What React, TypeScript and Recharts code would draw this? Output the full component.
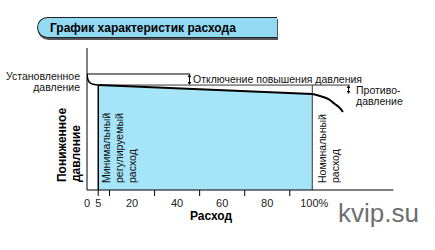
import React from 'react';
import { ComposedChart, Line, Area, XAxis, YAxis, ReferenceLine } from 'recharts';

// ---- data ----
const kneeFlow = [0, 0.22, 0.67, 1.55, 2.9, 5];
const kneePressure = [81.7, 78.9, 76.8, 75.2, 74.4, 73.9];
const regFlow = [5, 100];
const regPressure = [73.9, 67.6];
const tailFlow = [100, 103.4, 107, 110, 112.3, 113.6];
const tailPressure = [67.6, 66.2, 64.1, 60.6, 57.7, 54.9];
const setPressure = 81.7;
const minFlow = 5;
const nomFlow = 100;
const shutoffMarkFlow = 45.5;
const refLineEndFlow = 116.7;
const xTicks = [0, 5, 10, 20, 30, 40, 50, 60, 70, 80, 90, 100];
const xTickLabels: Record<number, string> = { 0: '0', 5: '5', 20: '20', 40: '40', 60: '60', 80: '80', 100: '100%' };
const xTickMarks = [5, 10, 30, 50, 70, 90];
const xDomain = [0, 136];
const yDomain = [0, 100];

type Row = { x: number; knee?: number; reg?: number; tail?: number; fill?: number };
const rowMap = new Map<number, Row>();
const put = (x: number, key: keyof Row, v: number) => {
  const r = rowMap.get(x) || { x };
  (r as any)[key] = v;
  rowMap.set(x, r);
};
kneeFlow.forEach((x, i) => put(x, 'knee', kneePressure[i]));
regFlow.forEach((x, i) => { put(x, 'reg', regPressure[i]); put(x, 'fill', regPressure[i]); });
tailFlow.forEach((x, i) => put(x, 'tail', tailPressure[i]));
const rows = Array.from(rowMap.values()).sort((a, b) => a.x - b.x);

const FONT = '"Liberation Sans", Arial, sans-serif';

const XTick = (props: any) => {
  const { x, y, payload } = props;
  const v = payload.value as number;
  const label = xTickLabels[v];
  return (
    <g>
      {xTickMarks.includes(v) && <line x1={x} y1={y} x2={x} y2={y + 6} stroke="#000" strokeWidth={1} />}
      {label !== undefined && (
        <text x={v === 100 ? x + 2 : x} y={y + 17} textAnchor="middle" fontSize={11} fontFamily={FONT} fill="#222">
          {label}
        </text>
      )}
    </g>
  );
};

const arrowShape = (p: any) => {
  const { x1, y1, x2, y2 } = p;
  const top = Math.min(y1, y2);
  const bot = Math.max(y1, y2);
  const x = x1;
  return (
    <g>
      <line x1={x} y1={top + 1} x2={x} y2={bot - 1} stroke="#000" strokeWidth={1} />
      <path d={`M${x - 1.8},${top + 3} L${x},${top} L${x + 1.8},${top + 3} Z`} fill="#000" />
      <path d={`M${x - 1.8},${bot - 3} L${x},${bot} L${x + 1.8},${bot - 3} Z`} fill="#000" />
    </g>
  );
};

export default function App() {
  return (
    <div style={{ position: 'absolute', left: 0, top: 0, width: 435, height: 250, background: '#fff', overflow: 'hidden' }}>
      <div
        style={{
          position: 'absolute', left: 37, top: 17, width: 240, height: 21,
          background: '#92d9f3', border: '1px solid #222', borderRight: 'none',
          borderRadius: '11px 0 0 11px', boxShadow: '1px 2px 0 #555',
          fontFamily: FONT, fontWeight: 'bold', fontSize: 12, lineHeight: '21px',
          paddingLeft: 12, boxSizing: 'border-box', color: '#000',
        }}
      >
        График характеристик расхода
      </div>
      <div style={{ position: 'absolute', left: 0, top: 0 }}>
        <ComposedChart width={435} height={250} data={rows} margin={{ top: 48, right: 41.6, bottom: 30, left: 77 }}>
          <XAxis
            dataKey="x" type="number" domain={xDomain} ticks={xTicks} interval={0}
            height={30} tickLine={false} tickSize={0} tickMargin={0}
            axisLine={{ stroke: '#000', strokeWidth: 1.2 }} tick={<XTick />} allowDataOverflow
          />
          <YAxis type="number" domain={yDomain} width={10} tick={false} tickLine={false} axisLine={{ stroke: '#000', strokeWidth: 1 }} allowDataOverflow />
          <Area dataKey="fill" type="linear" fill="#a6e4f8" fillOpacity={1} stroke="none" isAnimationActive={false} connectNulls={false} dot={false} activeDot={false} />
          <ReferenceLine segment={[{ x: 0, y: setPressure }, { x: shutoffMarkFlow + 0.3, y: setPressure }]} stroke="#000" strokeWidth={1} />
          <ReferenceLine segment={[{ x: minFlow, y: regPressure[0] }, { x: refLineEndFlow, y: regPressure[0] }]} stroke="#000" strokeWidth={0.8} />
          <ReferenceLine segment={[{ x: minFlow, y: regPressure[0] }, { x: minFlow, y: 0 }]} stroke="#000" strokeWidth={1.5} />
          <ReferenceLine segment={[{ x: nomFlow, y: regPressure[0] }, { x: nomFlow, y: 0 }]} stroke="#333" strokeWidth={1} />
          <ReferenceLine segment={[{ x: shutoffMarkFlow, y: setPressure }, { x: shutoffMarkFlow, y: regPressure[0] }]} shape={arrowShape} />
          <ReferenceLine segment={[{ x: refLineEndFlow - 0.6, y: regPressure[0] }, { x: refLineEndFlow - 0.6, y: regPressure[1] }]} shape={arrowShape} />
          <Line dataKey="knee" type="monotone" stroke="#000" strokeWidth={1.6} dot={false} activeDot={false} isAnimationActive={false} connectNulls={false} />
          <Line dataKey="reg" type="linear" stroke="#000" strokeWidth={2} dot={false} activeDot={false} isAnimationActive={false} connectNulls={false} />
          <Line dataKey="tail" type="monotone" stroke="#000" strokeWidth={2} dot={false} activeDot={false} isAnimationActive={false} connectNulls={false} />
        </ComposedChart>
      </div>
      <svg width={435} height={250} style={{ position: 'absolute', left: 0, top: 0, pointerEvents: 'none' }} fontFamily={FONT}>
        <text x={80} y={80} textAnchor="end" fontSize={10.5} fill="#111">Установленное</text>
        <text x={80} y={91} textAnchor="end" fontSize={10.5} fill="#111">давление</text>
        <text x={193} y={82.5} fontSize={10.5} fill="#111">Отключение повышения давления</text>
        <text x={356} y={94} fontSize={10.5} fill="#111">Противо-</text>
        <text x={356} y={105} fontSize={10.5} fill="#111">давление</text>
        <text transform="translate(66,182) rotate(-90)" fontSize={12} fontWeight="bold" fill="#000">Пониженное</text>
        <text transform="translate(80,182) rotate(-90)" fontSize={12} fontWeight="bold" fill="#000">давление</text>
        <text transform="translate(110,183) rotate(-90)" fontSize={10.5} fill="#111">Минимальный</text>
        <text transform="translate(123,183) rotate(-90)" fontSize={10.5} fill="#111">регулируемый</text>
        <text transform="translate(136,183) rotate(-90)" fontSize={10.5} fill="#111">расход</text>
        <text transform="translate(326,183) rotate(-90)" fontSize={10.5} fill="#111">Номинальный</text>
        <text transform="translate(339,183) rotate(-90)" fontSize={10.5} fill="#111">расход</text>
        <text x={211} y={219.5} textAnchor="middle" fontSize={12} fontWeight="bold" fill="#000">Расход</text>
        <text x={419} y={222} textAnchor="end" fontSize={26} fill="#6e6e6e">kvip.su</text>
      </svg>
    </div>
  );
}
